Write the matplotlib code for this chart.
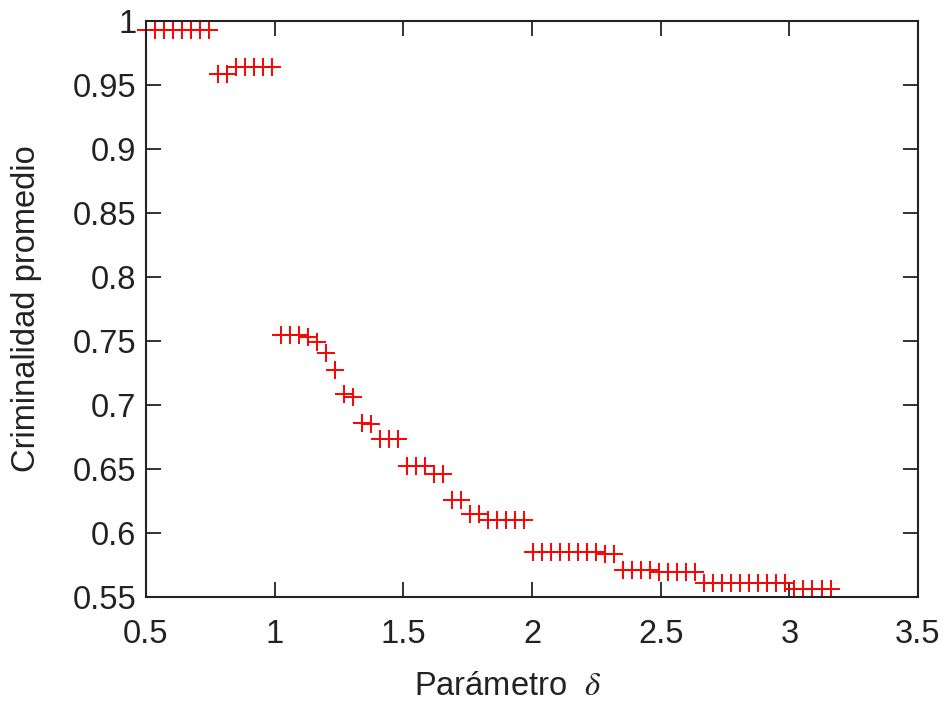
import numpy as np
import matplotlib
matplotlib.use('Agg')
import matplotlib.pyplot as plt

plt.rcParams['font.family'] = ['Liberation Sans', 'DejaVu Sans']
plt.rcParams['mathtext.fontset'] = 'stix'

# delta values
delta = [0.500, 0.535, 0.570, 0.605, 0.640, 0.675, 0.710, 0.745,
         0.780, 0.815, 0.850, 0.885, 0.920, 0.955, 0.990,
         1.025, 1.060, 1.095, 1.130, 1.165, 1.200, 1.235, 1.270, 1.305,
         1.340, 1.375, 1.410, 1.445, 1.480, 1.515, 1.550, 1.585, 1.620,
         1.655, 1.690, 1.725, 1.760, 1.795, 1.830, 1.865, 1.900, 1.935,
         1.970, 2.005, 2.040, 2.075, 2.110, 2.145, 2.180, 2.215, 2.250,
         2.285, 2.320, 2.355, 2.390, 2.425, 2.460, 2.495, 2.530, 2.565,
         2.600, 2.635, 2.670, 2.705, 2.740, 2.775, 2.810, 2.845, 2.880,
         2.915, 2.950, 2.985, 3.020, 3.055, 3.090, 3.125, 3.160]

# average criminality
crim = [0.9928, 0.9928, 0.9928, 0.9928, 0.9928, 0.9928, 0.9928, 0.9928,
        0.9585, 0.9585, 0.9640, 0.9640, 0.9640, 0.9640, 0.9640,
        0.7547, 0.7547, 0.7547, 0.7530, 0.7495, 0.7406, 0.7273, 0.7085, 0.7060,
        0.6856, 0.6852, 0.6734, 0.6734, 0.6734, 0.6527, 0.6527, 0.6527, 0.6462,
        0.6462, 0.6257, 0.6257, 0.6148, 0.6148, 0.6100, 0.6100, 0.6100, 0.6100,
        0.6100, 0.5855, 0.5855, 0.5855, 0.5855, 0.5855, 0.5855, 0.5855, 0.5855,
        0.5835, 0.5835, 0.5712, 0.5712, 0.5712, 0.5712, 0.5697, 0.5697, 0.5697,
        0.5697, 0.5697, 0.5607, 0.5607, 0.5607, 0.5607, 0.5607, 0.5607, 0.5607,
        0.5607, 0.5607, 0.5607, 0.5561, 0.5561, 0.5561, 0.5561, 0.5561]

xticks = [0.5, 1, 1.5, 2, 2.5, 3, 3.5]
yticks = [0.55, 0.6, 0.65, 0.7, 0.75, 0.8, 0.85, 0.9, 0.95, 1]

fig = plt.figure(figsize=(9.43, 7.06), dpi=100)
ax = fig.add_axes([0.1548, 0.1544, 0.8187, 0.8159])

ax.plot(delta, crim, color='red', linestyle='none',
        marker='+', ms=12.5, mew=1.4, clip_on=False)

ax.set_xlim(0.5, 3.5)
ax.set_ylim(0.55, 1)
ax.set_xticks(xticks)
ax.set_xticklabels(['0.5', '1', '1.5', '2', '2.5', '3', '3.5'])
ax.set_yticks(yticks)
ax.set_yticklabels(['0.55', '0.6', '0.65', '0.7', '0.75', '0.8', '0.85', '0.9', '0.95', '1'])

ax.tick_params(direction='in', length=11, width=1.3, labelsize=23.5,
               top=True, right=True, colors='#222222')
ax.tick_params(axis='x', pad=16)
ax.tick_params(axis='y', pad=7)
for s in ax.spines.values():
    s.set_linewidth(1.5)
    s.set_color('#222222')

ax.set_ylabel('Criminalidad promedio', fontsize=23.5, color='#222222')
ax.set_xlabel('Parámetro  $\\delta$', fontsize=23.5, color='#222222')
ax.yaxis.set_label_coords(-0.135, 0.5)
ax.xaxis.set_label_coords(0.468, -0.128)

fig.savefig('out.png', dpi=100)
